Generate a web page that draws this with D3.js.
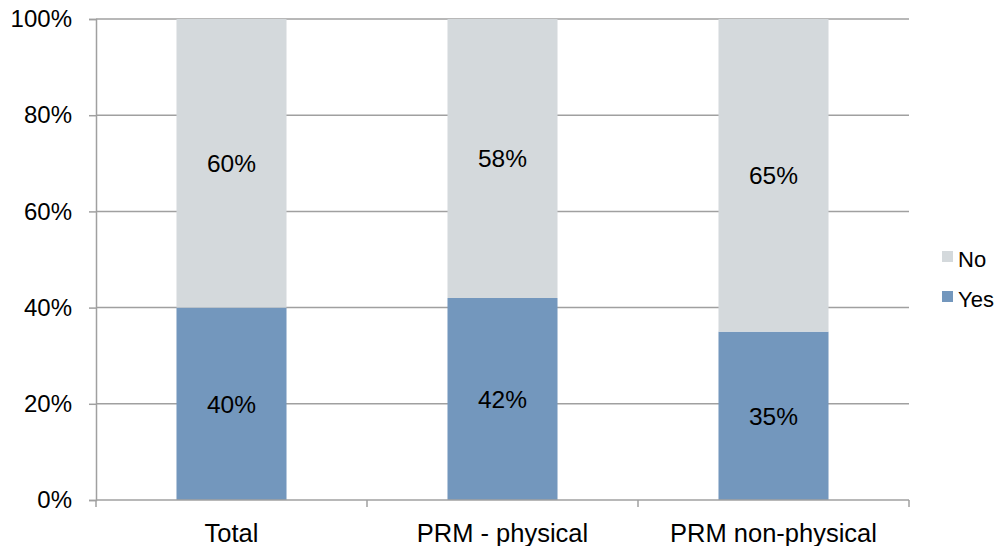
<!DOCTYPE html>
<html>
<head>
<meta charset="utf-8">
<script src="https://cdn.jsdelivr.net/npm/d3@7"></script>
<style>
  html, body { margin: 0; padding: 0; background: #fff; }
  svg { display: block; font-family: "Liberation Sans", Arial, sans-serif; }
</style>
</head>
<body>
<svg id="chart" width="1004" height="546"></svg>
<script>
// Share of respondents by group
const categories = ["Total", "PRM - physical", "PRM non-physical"];
const yesValues = [40, 42, 35];
const noValues = [60, 58, 65];
const seriesNames = ["Yes", "No"];
const yTicks = [0, 20, 40, 60, 80, 100];

const colors = { Yes: "#7397bd", No: "#d4d9dc" };
const gridColor = "#a0a0a0";

const margin = { left: 96, right: 95, top: 19, bottom: 46 };
const W = 1004, H = 546;
const svg = d3.select("#chart");

const x = d3.scaleBand()
  .domain(categories)
  .range([margin.left, W - margin.right])
  .padding(0);
const barWidth = x.bandwidth() * 0.406;

const y = d3.scaleLinear()
  .domain([0, 100])
  .range([H - margin.bottom, margin.top]);

// horizontal gridlines
svg.append("g")
  .selectAll("line")
  .data(yTicks.filter(d => d > 0))
  .join("line")
  .attr("x1", margin.left)
  .attr("x2", W - margin.right)
  .attr("y1", d => y(d))
  .attr("y2", d => y(d))
  .attr("stroke", gridColor)
  .attr("stroke-width", 1.5);

// stacked bars
const rows = categories.map((c, i) => ({ cat: c, Yes: yesValues[i], No: noValues[i] }));
const stack = d3.stack().keys(seriesNames)(rows);

const barG = svg.append("g");
stack.forEach(layer => {
  barG.append("g")
    .attr("fill", colors[layer.key])
    .selectAll("rect")
    .data(layer)
    .join("rect")
    .attr("x", d => x(d.data.cat) + (x.bandwidth() - barWidth) / 2)
    .attr("width", barWidth)
    .attr("y", d => y(d[1]))
    .attr("height", d => y(d[0]) - y(d[1]));
});

// value labels
stack.forEach(layer => {
  svg.append("g")
    .selectAll("text")
    .data(layer)
    .join("text")
    .attr("x", d => x(d.data.cat) + x.bandwidth() / 2)
    .attr("y", d => (y(d[0]) + y(d[1])) / 2)
    .attr("dy", "0.36em")
    .attr("text-anchor", "middle")
    .attr("font-size", 24.5)
    .attr("fill", "#000")
    .text(d => d.data[layer.key] + "%");
});

// y axis
const yAxis = svg.append("g")
  .attr("transform", `translate(${margin.left},0)`)
  .call(d3.axisLeft(y).tickValues(yTicks).tickFormat(d => d + "%").tickSize(7).tickPadding(17));
yAxis.select(".domain").attr("stroke", gridColor).attr("stroke-width", 1.5);
yAxis.selectAll(".tick line").attr("stroke", gridColor).attr("stroke-width", 1.5);
yAxis.selectAll(".tick text")
  .attr("font-size", 24)
  .attr("font-family", "Liberation Sans, Arial, sans-serif")
  .attr("fill", "#000");

// x axis with boundary ticks between categories
const xg = svg.append("g")
  .attr("transform", `translate(0,${H - margin.bottom})`);
xg.append("line")
  .attr("x1", margin.left)
  .attr("x2", W - margin.right)
  .attr("stroke", gridColor)
  .attr("stroke-width", 1.5);
const bounds = categories.map(c => x(c)).concat([x(categories[categories.length - 1]) + x.bandwidth()]);
xg.selectAll("line.b")
  .data(bounds)
  .join("line")
  .attr("class", "b")
  .attr("x1", d => d).attr("x2", d => d)
  .attr("y1", 0).attr("y2", 7)
  .attr("stroke", gridColor)
  .attr("stroke-width", 1.5);
xg.selectAll("text")
  .data(categories)
  .join("text")
  .attr("x", d => x(d) + x.bandwidth() / 2)
  .attr("y", 33)
  .attr("dy", "0.36em")
  .attr("text-anchor", "middle")
  .attr("font-size", 25.5)
  .attr("fill", "#000")
  .text(d => d);

// legend
const legendItems = ["No", "Yes"];
const legend = svg.append("g").attr("transform", "translate(942,0)");
const li = legend.selectAll("g")
  .data(legendItems)
  .join("g")
  .attr("transform", (d, i) => `translate(0,${251 + i * 40})`);
li.append("rect")
  .attr("x", 0).attr("y", 0)
  .attr("width", 11).attr("height", 11)
  .attr("fill", d => colors[d]);
li.append("text")
  .attr("x", 16)
  .attr("y", 8)
  .attr("dy", "0.36em")
  .attr("font-size", 22)
  .attr("fill", "#000")
  .text(d => d);
</script>
</body>
</html>
